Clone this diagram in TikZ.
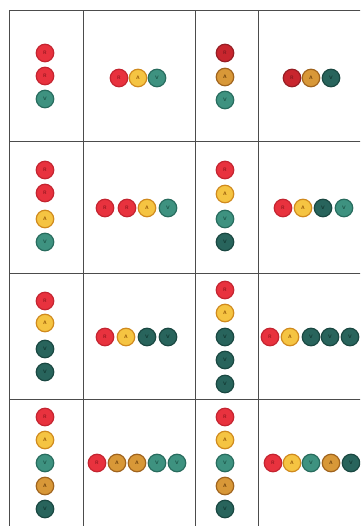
\documentclass[tikz,border=0pt]{standalone}
\begin{document}
\begin{tikzpicture}[x=1pt,y=-1pt,
  grid/.style={draw=black!70,line width=1pt},
  bead/.style={circle,minimum size=17.5pt,inner sep=0pt,line width=1.2pt,
    font=\fontsize{5}{5}\selectfont\sffamily\bfseries},
  beadR/.style={bead,fill={rgb,255:red,232;green,50;blue,62},draw={rgb,255:red,196;green,36;blue,48},text={rgb,255:red,150;green,24;blue,32}},
  beadRd/.style={bead,fill={rgb,255:red,200;green,38;blue,46},draw={rgb,255:red,150;green,30;blue,36},text={rgb,255:red,130;green,24;blue,30}},
  beadA/.style={bead,fill={rgb,255:red,245;green,196;blue,66},draw={rgb,255:red,208;green,138;blue,30},text={rgb,255:red,150;green,90;blue,10}},
  beadAb/.style={bead,fill={rgb,255:red,216;green,152;blue,56},draw={rgb,255:red,160;green,100;blue,30},text={rgb,255:red,110;green,66;blue,12}},
  beadV/.style={bead,fill={rgb,255:red,62;green,146;blue,128},draw={rgb,255:red,40;green,108;blue,94},text={rgb,255:red,28;green,84;blue,72}},
  beadVd/.style={bead,fill={rgb,255:red,40;green,100;blue,92},draw={rgb,255:red,26;green,72;blue,66},text={rgb,255:red,18;green,56;blue,50}}]
\useasboundingbox (0,0) rectangle (360,526);
\clip (0,0) rectangle (360,526);
\fill[white] (0,0) rectangle (360,526);
% grid
\draw[grid] (9,11) -- (362,11);
\draw[grid] (9,142) -- (362,142);
\draw[grid] (9,273) -- (362,273);
\draw[grid] (9,399) -- (362,399);
\draw[grid] (9,11) -- (9,528);
\draw[grid] (83,11) -- (83,528);
\draw[grid] (195,11) -- (195,528);
\draw[grid] (258,11) -- (258,528);
% beads
\foreach \x/\y/\t/\l [count=\i] in {
  45/53/R/R, 45/76/R/R, 45/99/V/V,
  119/78/R/R, 138/78/A/A, 157/78/V/V,
  225/53/Rd/R, 225/77/Ab/A, 225/100/V/V,
  292/78/Rd/R, 311/78/Ab/A, 331/78/Vd/V,
  45/170/R/R, 45/193/R/R, 45/219/A/A, 45/242/V/V,
  105/208/R/R, 127/208/R/R, 147/208/A/A, 168/208/V/V,
  225/170/R/R, 225/194/A/A, 225/219/V/V, 225/242/Vd/V,
  283/208/R/R, 303/208/A/A, 323/208/Vd/V, 344/208/V/V,
  45/301/R/R, 45/323/A/A, 45/349/Vd/V, 45/372/Vd/V,
  105/337/R/R, 126/337/A/A, 147/337/Vd/V, 168/337/Vd/V,
  225/290/R/R, 225/313/A/A, 225/337/Vd/V, 225/360/Vd/V, 225/384/Vd/V,
  270/337/R/R, 290/337/A/A, 311/337/Vd/V, 330/337/Vd/V, 350/337/Vd/V,
  45/417/R/R, 45/440/A/A, 45/463/V/V, 45/486/Ab/A, 45/509/Vd/V,
  97/463/R/R, 117/463/Ab/A, 137/463/Ab/A, 157/463/V/V, 177/463/V/V,
  225/417/R/R, 225/440/A/A, 225/463/V/V, 225/486/Ab/A, 225/509/Vd/V,
  273/463/R/R, 292/463/A/A, 311/463/V/V, 331/463/Ab/A, 351/463/Vd/V}
  \node[bead\t] (b\i) at (\x,\y) {\l};
\end{tikzpicture}
\end{document}
